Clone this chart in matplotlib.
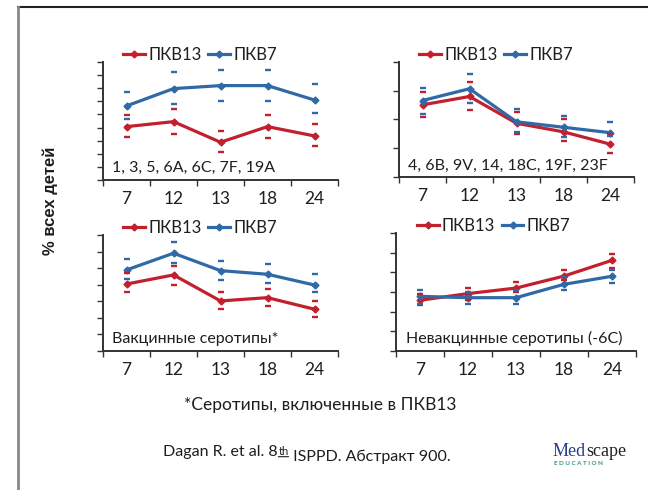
import numpy as np
import matplotlib.pyplot as plt
from matplotlib.lines import Line2D

plt.rcParams['font.family'] = ['Lato', 'DejaVu Sans']

# age groups (months)
ages = ['7', '12', '13', '18', '24']
legend_names = ['ПКВ13', 'ПКВ7']

# top left: 1, 3, 5, 6A, 6C, 7F, 19A
tl_pcv13 = [4.07, 4.45, 2.88, 4.07, 3.36]
tl_pcv13_hi = [4.96, 5.40, 3.76, 4.96, 4.27]
tl_pcv13_lo = [3.26, 3.51, 2.16, 3.23, 2.60]
tl_pcv7 = [5.65, 6.97, 7.20, 7.20, 6.10]
tl_pcv7_hi = [6.74, 8.22, 8.40, 8.40, 7.33]
tl_pcv7_lo = [4.63, 5.80, 6.03, 6.03, 5.09]

# top right: 4, 6B, 9V, 14, 18C, 19F, 23F
tr_pcv13 = [2.51, 2.80, 1.87, 1.57, 1.14]
tr_pcv13_hi = [2.97, 3.30, 2.27, 2.01, 1.49]
tr_pcv13_lo = [2.08, 2.33, 1.49, 1.26, 0.84]
tr_pcv7 = [2.66, 3.07, 1.92, 1.73, 1.54]
tr_pcv7_hi = [3.11, 3.59, 2.36, 2.13, 1.92]
tr_pcv7_lo = [2.18, 2.59, 1.57, 1.40, 1.42]

# bottom left: vaccine serotypes
bl_pcv13 = [4.04, 4.59, 3.02, 3.22, 2.52]
bl_pcv13_hi = [4.69, 5.13, 3.54, 3.72, 3.04]
bl_pcv13_lo = [3.58, 3.98, 2.53, 2.72, 2.07]
bl_pcv7 = [4.89, 5.90, 4.85, 4.63, 3.98]
bl_pcv7_hi = [5.53, 6.56, 5.43, 5.25, 4.63]
bl_pcv7_lo = [4.33, 5.33, 4.28, 4.12, 3.54]

# bottom right: non-vaccine serotypes
br_pcv13 = [2.58, 2.92, 3.20, 3.81, 4.61]
br_pcv13_hi = [2.90, 3.20, 3.51, 4.10, 4.95]
br_pcv13_lo = [2.32, 2.61, 3.00, 3.59, 4.24]
br_pcv7 = [2.78, 2.71, 2.71, 3.39, 3.80]
br_pcv7_hi = [3.09, 3.00, 3.09, 3.76, 4.10]
br_pcv7_lo = [2.41, 2.41, 2.41, 3.09, 3.46]

red = '#C3202E'
blue = '#2F6AA6'
ink = '#1E1E1E'

W, H = 648, 490
fig = plt.figure(figsize=(W / 100, H / 100), dpi=100)


def box(l, t, r, b):
    return [l / W, 1 - b / H, (r - l) / W, (b - t) / H]


panels = [
    (box(103, 62, 338, 180), 9, '1, 3, 5, 6A, 6C, 7F, 19A',
     tl_pcv13, tl_pcv13_hi, tl_pcv13_lo, tl_pcv7, tl_pcv7_hi, tl_pcv7_lo),
    (box(399, 62, 634, 177), 4, '4, 6B, 9V, 14, 18C, 19F, 23F',
     tr_pcv13, tr_pcv13_hi, tr_pcv13_lo, tr_pcv7, tr_pcv7_hi, tr_pcv7_lo),
    (box(103, 235, 338, 351), 7, 'Вакцинные серотипы*',
     bl_pcv13, bl_pcv13_hi, bl_pcv13_lo, bl_pcv7, bl_pcv7_hi, bl_pcv7_lo),
    (box(396, 233, 636, 351), 6, 'Невакцинные серотипы (-6C)',
     br_pcv13, br_pcv13_hi, br_pcv13_lo, br_pcv7, br_pcv7_hi, br_pcv7_lo),
]

x = np.arange(len(ages))
for rect, ymax, label, r, rhi, rlo, b, bhi, blo in panels:
    ax = fig.add_axes(rect)
    ax.plot(x, r, color=red, lw=2.3, marker='D', ms=3.5, label=legend_names[0])
    ax.plot(x, b, color=blue, lw=2.3, marker='D', ms=3.5, label=legend_names[1])
    for hi, lo, c in [(rhi, rlo, red), (bhi, blo, blue)]:
        ax.plot(x, hi, ls='none', marker='_', ms=5, mew=1.7, color=c)
        ax.plot(x, lo, ls='none', marker='_', ms=5, mew=1.7, color=c)
    ax.set_xlim(-0.5, len(ages) - 0.5)
    ax.set_ylim(0, ymax)
    ax.set_yticks(np.arange(0, ymax + 1))
    ax.set_yticklabels([])
    ax.set_xticks(np.arange(-0.5, len(ages)))
    ax.set_xticklabels([])
    ax.set_xticks(x, minor=True)
    ax.set_xticklabels(ages, minor=True, fontsize=12.5)
    ax.tick_params(axis='x', which='minor', length=0, pad=8, colors=ink)
    ax.tick_params(axis='both', which='major', direction='out', length=4,
                   width=1, color='#333333')
    for s in ['top', 'right']:
        ax.spines[s].set_visible(False)
    for s in ['left', 'bottom']:
        ax.spines[s].set_linewidth(1.4)
        ax.spines[s].set_color('#333333')
    ax.text(0.04, 0.04, label, transform=ax.transAxes, fontsize=11.5,
            color=ink, va='bottom', ha='left')
    ax.legend(loc='lower left', bbox_to_anchor=(0.08, 0.98), ncol=2,
              frameon=False, fontsize=12, handlelength=1.3,
              handletextpad=0.2, columnspacing=0.4, borderaxespad=0,
              borderpad=0.1, labelcolor=ink)

ov = fig.add_axes([0, 0, 1, 1], facecolor='none')
ov.set_axis_off()
ov.set_xlim(0, W)
ov.set_ylim(H, 0)

ov.text(50, 201, '% всех детей', rotation=90, ha='center',
        va='center', fontsize=12, fontweight='bold', color=ink,
        family=['Liberation Sans', 'DejaVu Sans'])
ov.text(320, 405, '*Серотипы, включенные в ПКВ13', ha='center',
        va='center', fontsize=12.5, color=ink)
t1 = ov.text(163, 452, 'Dagan R. et al. 8', ha='left', va='center',
             fontsize=11.5, color=ink)
t2 = ov.annotate('th', xy=(1, 1), xycoords=t1, xytext=(0.5, -0.5),
                 textcoords='offset points', ha='left', va='top',
                 fontsize=8, color=ink)
ov.annotate('', xy=(0, 0), xycoords=t2, xytext=(1, 0),
            textcoords=t2, arrowprops=dict(arrowstyle='-', color=ink,
                                           lw=0.8, shrinkA=0, shrinkB=0))
ov.annotate(' ISPPD. Абстракт 900.', xy=(1, 0), xycoords=t2,
            xytext=(0, -5.5), textcoords='offset points', ha='left',
            va='bottom', fontsize=11.5, color=ink)
m1 = ov.text(553, 451, 'Med', ha='left', va='center', fontsize=13,
             color='#24408E', family=['Liberation Serif', 'DejaVu Serif'])
ov.annotate('scape', xy=(1, 0), xycoords=m1, xytext=(0, 0),
            textcoords='offset points', ha='left', va='bottom',
            fontsize=13, color='#222222',
            family=['Liberation Serif', 'DejaVu Serif'])
ov.text(554, 463, 'E D U C A T I O N', ha='left', va='center',
        fontsize=4.5, color='#3A8F7A', fontweight='bold')

# slide frame
ov.add_line(Line2D([18, W], [7, 7], color='#222222', lw=1.5))
ov.add_line(Line2D([18, 18], [7, H], color='#888888', lw=2))

fig.savefig('out.png', dpi=100)
